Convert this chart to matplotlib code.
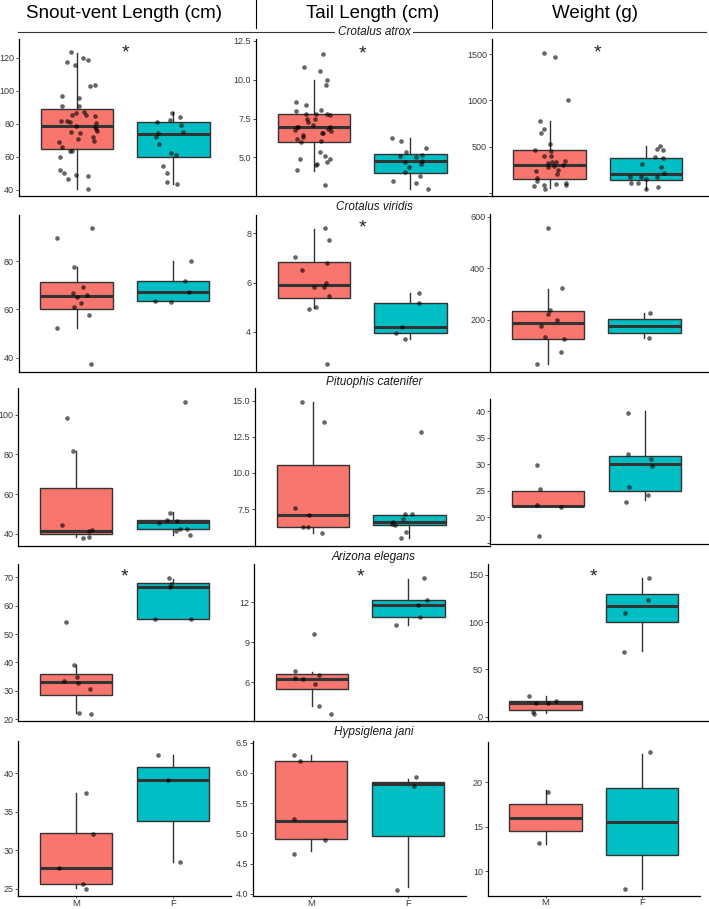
import matplotlib.pyplot as plt
from matplotlib.lines import Line2D

plt.rcParams['font.family'] = ['Liberation Sans', 'DejaVu Sans']

W, H = 709, 909

species = ['Crotalus atrox', 'Crotalus viridis', 'Pituophis catenifer', 'Arizona elegans', 'Hypsiglena jani']
keys = ['atrox', 'viridis', 'catenifer', 'elegans', 'jani']
measures = ['svl', 'tail', 'weight']
titles = ['Snout-vent Length (cm)', 'Tail Length (cm)', 'Weight (g)']
sex_labels = ['M', 'F']

# ---------------- data (points, jitter offsets, box stats lo/q1/med/q3/hi) ----------------
# Crotalus atrox
atrox_svl_m = [123.2, 117.4, 120.0, 118.2, 115.4, 103.0, 103.6, 96.6, 95.6, 90.7, 90.9, 86.7, 87.3, 85.0,
               85.3, 81.6, 81.4, 81.0, 84.4, 78.4, 80.4, 78.2, 77.0, 75.4, 75.0, 74.5, 71.9, 68.9, 70.7,
               69.7, 65.7, 63.4, 63.6, 59.8, 51.9, 50.5, 46.7, 48.9, 48.7, 40.8]
atrox_svl_m_jit = [-0.06, -0.10, 0.06, 0.12, -0.02, 0.14, 0.19, -0.15, 0.02, -0.15, 0.02, -0.01, 0.07, 0.09,
                   -0.05, -0.16, -0.10, -0.07, 0.19, -0.01, 0.20, 0.19, 0.20, 0.21, -0.06, 0.03, 0.17, -0.19,
                   0.01, 0.18, -0.15, -0.07, -0.05, -0.18, -0.18, -0.13, -0.09, -0.01, 0.12, 0.12]
atrox_svl_m_box = [40.8, 64.7, 78.4, 88.9, 122.8]
atrox_svl_f = [86.7, 84.0, 82.4, 81.0, 79.0, 74.5, 75.2, 72.1, 67.5, 62.6, 61.2, 54.5, 50.5, 45.0, 43.6]
atrox_svl_f_jit = [-0.01, 0.07, -0.04, -0.17, 0.08, -0.16, 0.10, -0.18, -0.15, -0.03, 0.03, -0.11, -0.07, -0.07, 0.04]
atrox_svl_f_box = [43.6, 59.8, 73.5, 81.0, 86.9]

atrox_tail_m = [11.67, 10.85, 10.57, 10.0, 9.68, 8.57, 8.4, 7.99, 8.03, 7.8, 7.8, 7.78, 7.76, 7.48, 7.5,
                7.26, 6.99, 7.07, 6.94, 6.77, 6.96, 6.84, 6.6, 6.47, 6.67, 6.32, 6.17, 6.56, 6.02, 6.09,
                5.36, 5.08, 4.89, 4.91, 4.55, 4.51, 4.68, 4.17, 3.2]
atrox_tail_m_jit = [0.09, -0.10, 0.06, 0.14, 0.13, -0.19, -0.08, -0.19, 0.07, -0.08, 0.02, 0.14, 0.17, -0.07,
                    0.01, -0.06, -0.18, -0.01, -0.16, -0.20, 0.17, 0.15, 0.09, -0.11, 0.18, -0.11, -0.17,
                    0.08, -0.13, 0.07, 0.06, 0.11, -0.14, 0.17, 0.03, 0.02, 0.14, -0.17, 0.12]
atrox_tail_m_box = [4.14, 6.0, 6.96, 7.82, 9.96]
atrox_tail_f = [6.24, 6.07, 5.34, 5.08, 5.6, 5.17, 5.06, 4.68, 4.78, 4.36, 4.55, 4.08, 3.78, 3.48, 3.35, 2.97]
atrox_tail_f_jit = [-0.19, -0.10, -0.05, -0.11, 0.16, 0.12, 0.06, -0.06, 0.12, -0.01, 0.11, -0.06, 0.10,
                    -0.18, 0.06, 0.18]
atrox_tail_f_box = [2.97, 3.97, 4.76, 5.21, 6.26]

atrox_weight_m = [1511, 1465, 1003, 779, 689, 649, 530, 458, 455, 401, 397, 332, 325, 329, 343, 300, 285,
                  274, 246, 231, 199, 155, 127, 72, 80, 44, 94, 87, 101]
atrox_weight_m_jit = [-0.06, 0.06, 0.19, -0.10, -0.06, -0.09, 0.00, -0.15, 0.01, -0.06, 0.01, 0.02, -0.02,
                      0.07, 0.16, 0.14, 0.05, -0.02, 0.09, -0.14, 0.08, -0.13, -0.13, -0.16, -0.06, -0.05,
                      0.07, 0.17, 0.17]
atrox_weight_m_box = [48, 152, 296, 462, 779]
atrox_weight_f = [505, 476, 390, 372, 462, 314, 274, 217, 170, 173, 166, 152, 101, 108, 44, 58]
atrox_weight_f_jit = [0.14, 0.11, 0.09, 0.17, 0.18, -0.04, 0.15, 0.19, -0.17, -0.05, 0.11, 0.00, -0.16,
                      -0.08, 0.00, 0.12]
atrox_weight_f_box = [43, 134, 202, 375, 505]

# Crotalus viridis
viridis_svl_m = [89.4, 93.6, 77.7, 69.4, 66.9, 66.0, 65.0, 62.5, 61.1, 57.5, 52.2, 37.4]
viridis_svl_m_jit = [-0.20, 0.16, -0.03, 0.07, -0.04, 0.11, 0.01, 0.05, -0.03, 0.13, -0.20, 0.15]
viridis_svl_m_box = [52.2, 60.3, 65.5, 71.5, 77.4]
viridis_svl_f = [63.6, 62.9, 71.8, 67.2, 80.0]
viridis_svl_f_jit = [-0.19, -0.02, 0.12, 0.17, 0.19]
viridis_svl_f_box = [63.5, 63.5, 67.2, 71.8, 80.0]

viridis_tail_m = [7.03, 8.23, 7.72, 6.5, 6.81, 5.97, 5.84, 5.81, 5.46, 4.93, 5.01, 2.70]
viridis_tail_m_jit = [-0.20, 0.11, 0.16, -0.12, 0.14, 0.13, 0.00, 0.10, 0.16, -0.05, 0.02, 0.14]
viridis_tail_m_box = [4.96, 5.37, 5.89, 6.85, 8.17]
viridis_tail_f = [5.58, 5.18, 4.22, 3.97, 3.70]
viridis_tail_f_jit = [0.09, 0.09, -0.09, -0.15, -0.06]
viridis_tail_f_box = [3.70, 3.97, 4.2, 5.19, 5.59]

viridis_weight_m = [555, 324, 239, 222, 200, 176, 135, 125, 76, 30]
viridis_weight_m_jit = [0.00, 0.15, 0.02, 0.00, 0.09, -0.07, -0.03, 0.17, 0.14, -0.11]
viridis_weight_m_box = [30, 126, 187, 236, 321]
viridis_weight_f = [226, 129]
viridis_weight_f_jit = [0.06, 0.05]
viridis_weight_f_box = [129, 151, 177, 203, 226]

# Pituophis catenifer
catenifer_svl_m = [98.4, 81.9, 44.2, 41.5, 41.7, 37.8, 38.3]
catenifer_svl_m_jit = [-0.10, -0.03, -0.15, 0.13, 0.16, 0.07, 0.13]
catenifer_svl_m_box = [38.2, 39.7, 41.5, 62.9, 81.6]
catenifer_svl_f = [106.5, 50.4, 46.9, 46.2, 45.4, 41.2, 42.2, 42.4, 39.5]
catenifer_svl_f_jit = [0.13, -0.03, -0.06, 0.04, -0.14, 0.03, 0.08, 0.15, 0.18]
catenifer_svl_f_box = [39.5, 42.2, 46.1, 47.1, 50.8]

catenifer_tail_m = [14.93, 13.5, 7.59, 7.06, 6.23, 6.28, 5.82]
catenifer_tail_m_jit = [-0.11, 0.11, -0.19, -0.04, -0.10, -0.05, 0.09]
catenifer_tail_m_box = [5.82, 6.23, 7.08, 10.57, 14.93]
catenifer_tail_f = [12.81, 7.13, 7.13, 6.81, 6.62, 6.46, 6.39, 5.93, 5.51]
catenifer_tail_f_jit = [0.12, -0.05, 0.03, -0.07, -0.17, -0.18, -0.15, -0.04, -0.09]
catenifer_tail_f_box = [5.51, 6.39, 6.62, 7.11, 7.11]

catenifer_weight_m = [29.8, 25.4, 22.26, 21.87, 16.4]
catenifer_weight_m_jit = [-0.12, -0.09, -0.12, 0.13, -0.10]
catenifer_weight_m_box = [22.0, 22.0, 22.06, 24.97, 24.97]
catenifer_weight_f = [39.75, 31.94, 31.04, 29.74, 25.74, 24.26, 22.77]
catenifer_weight_f_jit = [-0.17, -0.17, 0.06, 0.07, -0.16, 0.03, -0.20]
catenifer_weight_f_box = [23.16, 24.98, 30.07, 31.48, 40.0]

# Arizona elegans
elegans_svl_m = [54.35, 38.9, 33.4, 34.8, 32.7, 30.7, 22.2, 21.9]
elegans_svl_m_jit = [-0.11, -0.02, -0.13, 0.01, 0.02, 0.14, 0.03, 0.15]
elegans_svl_m_box = [22.0, 28.6, 33.06, 35.9, 39.06]
elegans_svl_f = [69.6, 67.6, 66.6, 55.3, 55.3]
elegans_svl_f_jit = [-0.04, -0.02, -0.03, -0.18, 0.19]
elegans_svl_f_box = [55.4, 55.4, 66.6, 67.9, 69.4]

elegans_tail_m = [6.83, 6.3, 6.23, 6.58, 5.88, 9.6, 4.25, 3.6]
elegans_tail_m_jit = [-0.18, -0.17, -0.09, 0.07, 0.03, 0.02, 0.07, 0.20]
elegans_tail_m_box = [4.25, 5.5, 6.28, 6.65, 6.78]
elegans_tail_f = [13.83, 12.18, 11.78, 10.88, 10.28]
elegans_tail_f_jit = [0.16, 0.19, 0.10, 0.12, -0.13]
elegans_tail_f_box = [10.33, 10.9, 11.78, 12.2, 13.75]

elegans_weight_m = [22, 14.8, 14.1, 16.2, 4.7, 3.2]
elegans_weight_m_jit = [-0.17, -0.10, 0.03, 0.11, -0.13, -0.12]
elegans_weight_m_box = [3.6, 6.5, 14.8, 16.2, 22]
elegans_weight_f = [146.4, 123.3, 110, 68.9]
elegans_weight_f_jit = [0.07, 0.06, -0.18, -0.19]
elegans_weight_f_box = [69.6, 99.9, 117.5, 129.8, 146.4]

# Hypsiglena jani
jani_svl_m = [27.63, 37.46, 32.16, 25.6, 24.9]
jani_svl_m_jit = [-0.18, 0.10, 0.17, 0.07, 0.10]
jani_svl_m_box = [25.04, 25.6, 27.63, 32.24, 37.46]
jani_svl_f = [42.46, 39.14, 28.45]
jani_svl_f_jit = [-0.15, -0.05, 0.08]
jani_svl_f_box = [28.45, 33.79, 39.14, 40.82, 42.46]

jani_tail_m = [6.29, 6.19, 5.23, 4.89, 4.66]
jani_tail_m_jit = [-0.18, -0.12, -0.18, 0.14, -0.18]
jani_tail_m_box = [4.71, 4.9, 5.2, 6.2, 6.3]
jani_tail_f = [5.93, 5.78, 4.07]
jani_tail_f_jit = [0.09, 0.07, -0.11]
jani_tail_f_box = [4.11, 4.95, 5.81, 5.85, 5.9]

jani_weight_m = [18.9, 13.18]
jani_weight_m_jit = [0.03, -0.07]
jani_weight_m_box = [13.03, 14.5, 16.02, 17.5, 19.09]
jani_weight_f = [23.41, 8.07]
jani_weight_f_jit = [0.08, -0.18]
jani_weight_f_box = [7.99, 11.78, 15.53, 19.28, 23.1]

# significance stars (y position), only where shown
stars = {'atrox_svl': 126.5, 'atrox_tail': 12.05, 'atrox_weight': 1580,
         'viridis_tail': 8.47,
         'elegans_svl': 72.2, 'elegans_tail': 14.35, 'elegans_weight': 154.3}

# y ranges and tick labels (a trailing ':' means tick without label)
ylims = {'atrox_svl': (36.5, 131.0), 'atrox_tail': (2.54, 12.6), 'atrox_weight': (-32, 1660),
         'viridis_svl': (34.2, 99.1), 'viridis_tail': (2.39, 8.74), 'viridis_weight': (0, 610),
         'catenifer_svl': (33.9, 113.4), 'catenifer_tail': (4.96, 15.86), 'catenifer_weight': (14.83, 42.4),
         'elegans_svl': (19.2, 74.6), 'elegans_tail': (3.08, 14.85), 'elegans_weight': (-4.3, 161.5),
         'jani_svl': (24.0, 44.27), 'jani_tail': (3.96, 6.53), 'jani_weight': (7.27, 24.5)}
yticks = {'atrox_svl': ['40', '60', '80', '100', '120'],
          'atrox_tail': ['5.0', '7.5', '10.0', '12.5'],
          'atrox_weight': ['0:', '500', '1000', '1500'],
          'viridis_svl': ['40', '60', '80'],
          'viridis_tail': ['4', '6', '8'],
          'viridis_weight': ['200', '400', '600'],
          'catenifer_svl': ['40', '60', '80', '100'],
          'catenifer_tail': ['7.5', '10.0', '12.5', '15.0'],
          'catenifer_weight': ['15:', '20', '25', '30', '35', '40'],
          'elegans_svl': ['20', '30', '40', '50', '60', '70'],
          'elegans_tail': ['6', '9', '12'],
          'elegans_weight': ['0', '50', '100', '150'],
          'jani_svl': ['25', '30', '35', '40'],
          'jani_tail': ['4.0', '4.5', '5.0', '5.5', '6.0', '6.5'],
          'jani_weight': ['10', '15', '20']}

# ---------------- layout (pixels) ----------------
row_top = [[39.3, 39.3, 39.3], [215, 215, 214], [388.3, 388.3, 398.8], [564.3, 564.3, 564], [740.7, 740.7, 741.8]]
row_bottom = [[195.7] * 3, [371.7] * 3, [545.7, 545.7, 544.3], [721.3, 721.3, 720.7], [896.3, 896.3, 895.8]]
col_left = [[19, 256, 491.7], [18.6, 256, 490], [18.3, 255, 490.4], [18.3, 254, 487.7], [18.3, 253.3, 487.7]]
label_y = [32, 206.7, 381.7, 556.7, 732.3]
UNIT = 96.5  # pixels per category step

FILLS = ['#F8766D', '#00BFC4']
EDGE = '#333333'
TXT = '#3a3a3a'

fig = plt.figure(figsize=(W / 100, H / 100), dpi=100)


def fx(x):
    return x / W


def fy(y):
    return 1 - y / H


for r, key in enumerate(keys):
    for c, ms in enumerate(measures):
        name = f'{key}_{ms}'
        left, top, bottom = col_left[r][c], row_top[r][c], row_bottom[r][c]
        if r < 4:
            right = col_left[r][c + 1] if c < 2 else W
        else:
            right = left + 2.2 * UNIT
        ax = fig.add_axes([fx(left), fy(bottom), (right - left) / W, (bottom - top) / H])
        ax.set_xlim(0.4, 0.4 + (right - left) / UNIT)
        ax.set_ylim(*ylims[name])

        stats = []
        for s in ('m', 'f'):
            lo, q1, med, q3, hi = globals()[f'{name}_{s}_box']
            stats.append(dict(whislo=lo, q1=q1, med=med, q3=q3, whishi=hi, fliers=[]))
        bp = ax.bxp(stats, positions=[1, 2], widths=0.75, patch_artist=True,
                    showfliers=False, showcaps=False,
                    boxprops=dict(edgecolor=EDGE, linewidth=1.0),
                    whiskerprops=dict(color=EDGE, linewidth=1.0),
                    medianprops=dict(color=EDGE, linewidth=2.2, solid_capstyle='butt'))
        for patch, col in zip(bp['boxes'], FILLS):
            patch.set_facecolor(col)

        for pos, s in ((1, 'm'), (2, 'f')):
            vals = globals()[f'{name}_{s}']
            jit = globals()[f'{name}_{s}_jit']
            ax.scatter([pos + j for j in jit], vals, s=11, color='black', alpha=0.6,
                       linewidths=0, zorder=3, clip_on=False)

        if name in stars:
            ax.annotate('*', (1.5, stars[name]), xytext=(0, -4.5), textcoords='offset points',
                        ha='center', va='center', fontsize=14, color='#222222')

        ticks = yticks[name]
        ax.set_yticks([float(t.rstrip(':')) for t in ticks])
        ax.set_yticklabels(['' if t.endswith(':') else t for t in ticks])

        for sp in ('top', 'right'):
            ax.spines[sp].set_visible(False)
        for sp in ('left', 'bottom'):
            ax.spines[sp].set_linewidth(0.9)
            ax.spines[sp].set_color('black')
        ax.tick_params(axis='y', labelsize=6.5, length=2.5, width=0.6, color=EDGE,
                       labelcolor=TXT, pad=1)
        if r == 4:
            ax.spines['bottom'].set_bounds(0.4, 2.6)
            ax.set_xticks([1, 2])
            ax.set_xticklabels(sex_labels)
            ax.tick_params(axis='x', labelsize=6.8, length=1.2, width=0.6, color=EDGE,
                           labelcolor=TXT, pad=0.6)
        else:
            ax.set_xticks([])

# header
title_x = [124, 373, 595]
for t, x in zip(titles, title_x):
    fig.text(fx(x), fy(13), t, ha='center', va='center', fontsize=13.5, color='black')
for x in (256, 492):
    fig.add_artist(Line2D([fx(x), fx(x)], [1, fy(28)], transform=fig.transFigure,
                          color='black', lw=0.8))
fig.add_artist(Line2D([fx(18), fx(706)], [fy(32), fy(32)], transform=fig.transFigure,
                      color='#333333', lw=0.8))

# species labels
for sp, y in zip(species, label_y):
    fig.text(fx(374), fy(y), sp, ha='center', va='center', fontsize=8.5, style='italic',
             color='#1a1a1a',
             bbox=dict(facecolor='white', edgecolor='none', pad=1.5))

fig.savefig('out.png', dpi=100)
